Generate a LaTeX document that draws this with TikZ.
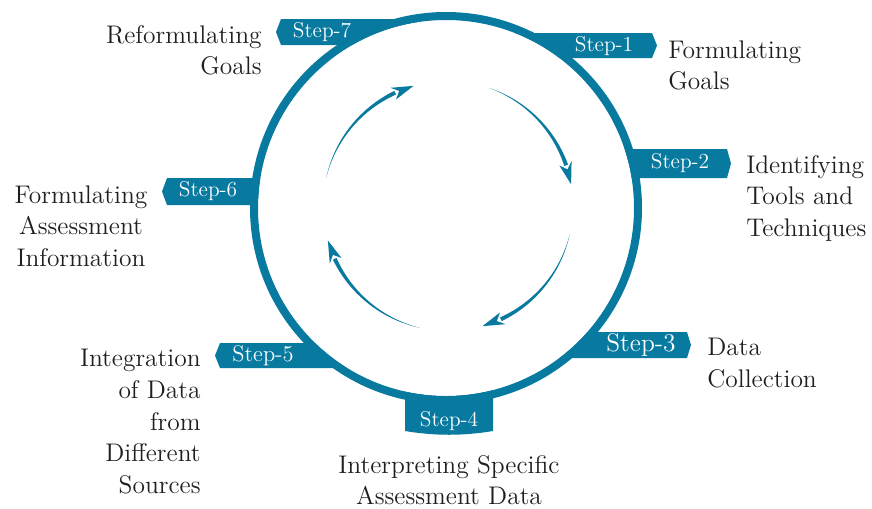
\documentclass[tikz,border=0pt]{standalone}
\usepackage{amsmath}
\definecolor{stepblue}{RGB}{8,122,160}

\begin{document}
\begin{tikzpicture}[x=0.02cm, y=-0.02cm,
steptext/.style={text=white, inner sep=0pt, font=\fontsize{12.2}{14}\selectfont},
labeltext/.style={inner sep=0pt, text=black!88, font=\fontsize{14.5}{18}\selectfont}]
\useasboundingbox (0,0) rectangle (872,508);

\fill[stepblue] (276,32) -- (281,19) -- (420,19) -- (420,45) -- (281,45) -- cycle;
\fill[stepblue] (510,33) -- (652,33) -- (657,45.5) -- (652,58) -- (510,58) -- cycle;
\fill[stepblue] (600,149) -- (727,149) -- (731,163.5) -- (727,178) -- (600,178) -- cycle;
\fill[stepblue] (540,332) -- (687,332) -- (691,345) -- (687,358) -- (540,358) -- cycle;
\fill[stepblue] (405,385) -- (405,431) .. controls (435,436) and (463,436) .. (493,431) -- (493,385) -- cycle;
\fill[stepblue] (215,355.5) -- (220,343) -- (370,343) -- (370,368) -- (220,368) -- cycle;
\fill[stepblue] (162,191.5) -- (167,178) -- (290,178) -- (290,205) -- (167,205) -- cycle;

\fill[white] (446,208) circle [radius=188];
\draw[stepblue, line width=0.16cm] (446,208) circle [radius=192];

\foreach \s in {167,71,-13,-103} {
\fill[stepblue] plot[domain=0:1, samples=30] ({448+(125+2*\x)*cos(\s-52*\x)}, {206-(125+2*\x)*sin(\s-52*\x)})
  -- plot[domain=0:1, samples=30] ({448+(125-2*(1-\x))*cos(\s-52*(1-\x))}, {206-(125-2*(1-\x))*sin(\s-52*(1-\x))}) -- cycle;
\fill[stepblue] ({448+125*cos(\s-61)}, {206-125*sin(\s-61)}) -- ({448+131.5*cos(\s-51)}, {206-131.5*sin(\s-51)})
  -- ({448+125*cos(\s-54)}, {206-125*sin(\s-54)}) -- ({448+118.5*cos(\s-51)}, {206-118.5*sin(\s-51)}) -- cycle;
}

\node[steptext](S1) at (604,46) {Step-1};
\node[steptext](S2) at (680,163) {Step-2};
\node[steptext, font=\fontsize{14.5}{16}\selectfont](S3) at (641,345) {Step-3};
\node[steptext](S4) at (449,421) {Step-4};
\node[steptext, font=\fontsize{12.8}{15}\selectfont](S5) at (263,356) {Step-5};
\node[steptext](S6) at (208,191) {Step-6};
\node[steptext](S7) at (322,32) {Step-7};

\node[labeltext, anchor=north west, align=left](L1) at (668,40) {Formulating\\Goals};
\node[labeltext, anchor=north west, align=left](L2) at (746,155) {Identifying\\Tools and\\Techniques};
\node[labeltext, anchor=north west, align=left](L3) at (707,338) {Data\\Collection};
\node[labeltext, anchor=north, align=center](L4) at (449,455) {Interpreting Specific\\Assessment Data};
\node[labeltext, anchor=north east, align=right](L5) at (201,349) {Integration\\of Data\\from\\Different\\Sources};
\node[labeltext, anchor=north, align=center](L6) at (81,185) {Formulating\\Assessment\\Information};
\node[labeltext, anchor=north east, align=right](L7) at (262,25) {Reformulating\\Goals};
\end{tikzpicture}
\end{document}
